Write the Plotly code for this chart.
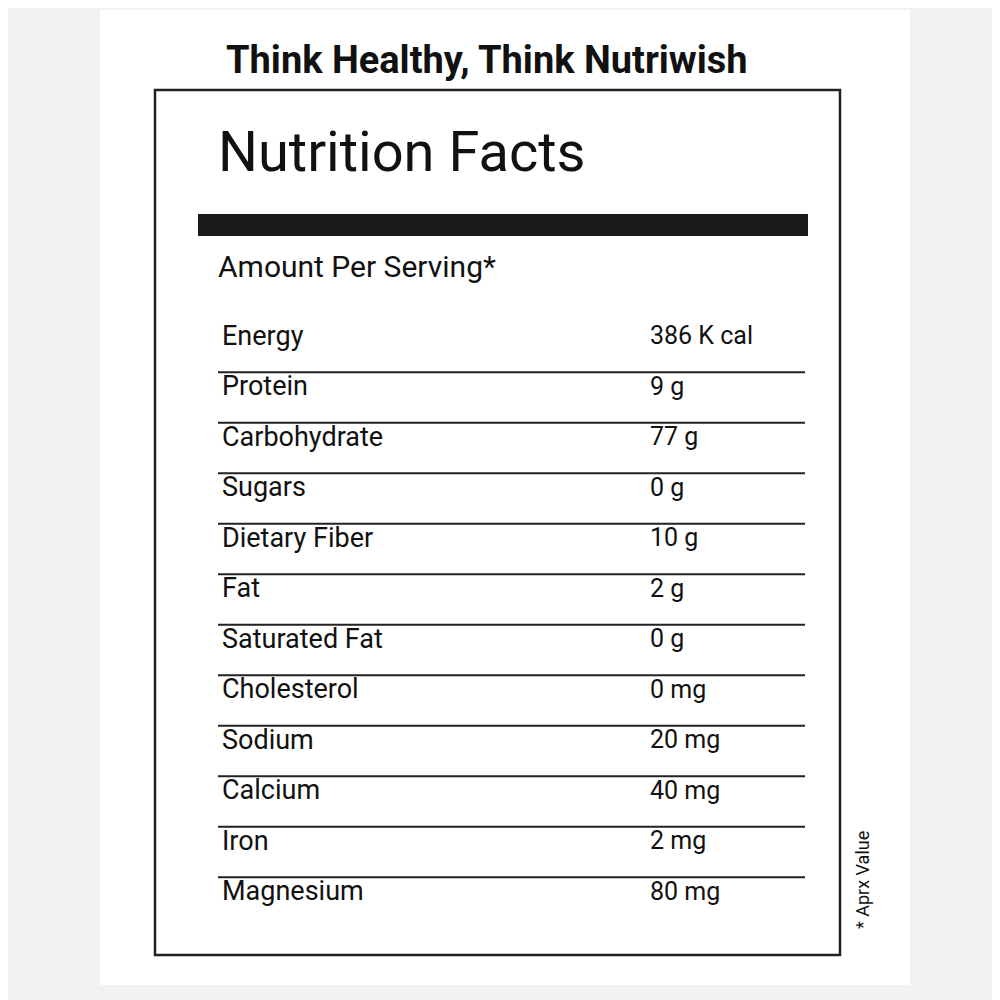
import plotly.graph_objects as go

nutrients = ["Energy", "Protein", "Carbohydrate", "Sugars", "Dietary Fiber", "Fat",
             "Saturated Fat", "Cholesterol", "Sodium", "Calcium", "Iron", "Magnesium"]
amounts = ["386 K cal", "9 g", "77 g", "0 g", "10 g", "2 g", "0 g", "0 mg",
           "20 mg", "40 mg", "2 mg", "80 mg"]

FONT = "Liberation Sans Narrow, Arial Narrow, Roboto, Liberation Sans, Arial"
rows = list(range(len(nutrients)))
OFF = 8

def py(p):  # pixel -> paper
    return 1 - (p - OFF) / 1000

def px(p):
    return (p - OFF) / 1000

fig = go.Figure()
fig.add_trace(go.Scatter(x=[222 - OFF]*len(rows), y=rows, text=nutrients, mode="text",
                         textposition="middle right",
                         textfont=dict(family=FONT, size=27, color="#111")))
fig.add_trace(go.Scatter(x=[650 - OFF]*len(rows), y=rows, text=amounts, mode="text",
                         textposition="middle right",
                         textfont=dict(family=FONT, size=25, color="#111")))

shapes = [
    dict(type="rect", xref="paper", yref="paper", x0=px(100), x1=px(910), y0=py(985), y1=py(10),
         fillcolor="#ffffff", line=dict(width=0), layer="below"),
    dict(type="rect", xref="paper", yref="paper", x0=px(155), x1=px(840), y0=py(955), y1=py(90),
         fillcolor="rgba(0,0,0,0)", line=dict(color="#222", width=2.5)),
    dict(type="rect", xref="paper", yref="paper", x0=px(198), x1=px(808), y0=py(236), y1=py(214),
         fillcolor="#1a1a1a", line=dict(width=0)),
]
for i in rows[:-1]:
    shapes.append(dict(type="line", xref="x", yref="y", x0=218 - OFF, x1=805 - OFF,
                       y0=i + 0.68, y1=i + 0.68, line=dict(color="#222", width=2)))

# y axis: row i centred at pixel 338 + 50.5*i (minus page offset)
y_top = (OFF - 338) / 50.5
y_bot = (1000 + OFF - 338) / 50.5
fig.update_layout(
    width=1000, height=1000, margin=dict(l=0, r=0, t=0, b=0),
    paper_bgcolor="#f2f2f4", plot_bgcolor="rgba(0,0,0,0)", showlegend=False,
    xaxis=dict(range=[0, 1000], visible=False, fixedrange=True),
    yaxis=dict(range=[y_bot, y_top], visible=False, fixedrange=True),
    shapes=shapes,
    annotations=[
        dict(text="<b>Think Healthy, Think Nutriwish</b>", xref="paper", yref="paper",
             x=px(487), y=py(60), xanchor="center", yanchor="middle", showarrow=False,
             font=dict(family=FONT, size=38, color="#111")),
        dict(text="Nutrition Facts", xref="paper", yref="paper", x=px(216), y=py(152),
             xanchor="left", yanchor="middle", showarrow=False,
             font=dict(family=FONT, size=56, color="#111")),
        dict(text="Amount Per Serving*", xref="paper", yref="paper", x=px(216), y=py(266),
             xanchor="left", yanchor="middle", showarrow=False,
             font=dict(family=FONT, size=30, color="#111")),
        dict(text="* Aprx Value", xref="paper", yref="paper", x=px(862), y=py(880),
             xanchor="center", yanchor="middle", textangle=-90, showarrow=False,
             font=dict(family=FONT, size=18, color="#111")),
    ],
)
fig.write_html("out.html")
